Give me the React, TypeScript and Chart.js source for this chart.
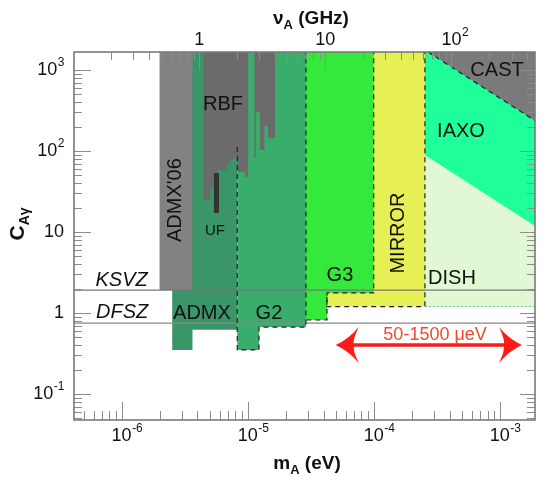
import React, { useEffect, useRef } from "react";
import { Chart, registerables } from "chart.js";

Chart.register(...registerables);

// ---------- axis ranges ----------
const massRange = [4.19e-7, 1.905e-3];
const couplingRange = [0.0478, 1668];
const evPerGHz = 4.136e-6;

// ---------- tick labels ----------
const massMajorTicks = [1e-6, 1e-5, 1e-4, 1e-3];
const massTickLabels = ["10^-6", "10^-5", "10^-4", "10^-3"];
const couplingMajorTicks = [0.1, 1, 10, 100, 1000];
const couplingTickLabels = ["10^-1", "1", "10", "10^2", "10^3"];
const freqMajorTicks = [1, 10, 100];
const freqTickLabels = ["1", "10", "10^2"];

// ---------- model lines ----------
const ksvz = 1.92;
const dfsz = 0.75;

// ---------- exclusion / sensitivity regions (mass in eV, C_Agamma) ----------
const regionTop = 3000;
const admx06Edges = [2.0e-6, 3.65e-6];
const admx06Floors = [1.92];
const admxEdges = [2.52e-6, 3.65e-6, 8.27e-6];
const admxFloors = [0.35, 0.62];
const g2Edges = [8.27e-6, 1.23e-5, 2.9e-5];
const g2Floors = [0.35, 0.67];
const g2DashStart = 112;
const g3Edges = [2.9e-5, 4.26e-5, 1.0e-4];
const g3Floors = [0.82, 1.77];
const mirrorEdges = [4.26e-5, 2.55e-4];
const mirrorFloors = [1.2];
const dishFloor = 1.2;
const dishEdgeM = [2.55e-4, 1.905e-3];
const dishEdgeC = [89, 11.9];
const castEdgeM = [2.7e-4, 1.905e-3];
const castEdgeC = [1668, 237];
const rbfLeftEdges = [4.44e-6, 5.02e-6, 5.26e-6, 5.81e-6, 6.81e-6, 7.24e-6, 7.69e-6, 8.27e-6, 9.52e-6, 1.01e-5];
const rbfLeftFloors = [24.8, 33, 41, 58, 71, 77, 84, 55, 48];
const rbfRightEdges = [1.13e-5, 1.16e-5, 1.25e-5, 1.36e-5, 1.45e-5, 1.65e-5];
const rbfRightFloors = [82, 300, 103, 204, 145];
const ufEdges = [5.4e-6, 5.92e-6];
const ufFloors = [17.2];
const ufTop = 53.5;
const searchRange = [5e-5, 1.5e-3];
const searchArrowC = 0.403;

const FONT = '"Liberation Sans", Arial, sans-serif';

type Pt = { x: number; y: number };

function stepRegion(edges: number[], floors: number[], top: number): Pt[] {
  const pts: Pt[] = [{ x: edges[0], y: top }];
  floors.forEach((f, i) => {
    pts.push({ x: edges[i], y: f });
    pts.push({ x: edges[i + 1], y: f });
  });
  pts.push({ x: edges[edges.length - 1], y: top });
  pts.push({ x: edges[0], y: top });
  return pts;
}

function fillDs(data: Pt[], color: string) {
  return {
    data,
    showLine: true,
    fill: "shape",
    backgroundColor: color,
    borderColor: "transparent",
    borderWidth: 0,
    pointRadius: 0,
    pointHoverRadius: 0,
    tension: 0,
  };
}

function lineDs(data: Pt[], color: string, width: number, dash: number[] = []) {
  return {
    data,
    showLine: true,
    fill: false,
    backgroundColor: "transparent",
    borderColor: color,
    borderWidth: width,
    borderDash: dash,
    pointRadius: 0,
    pointHoverRadius: 0,
    tension: 0,
  };
}

const annotations = [
  { text: "KSVZ", m: 1.0e-6, c: 2.55, italic: true, rot: false, size: 20 },
  { text: "DFSZ", m: 1.01e-6, c: 1.01, italic: true, rot: false, size: 20 },
  { text: "ADMX'06", m: 2.67e-6, c: 24.8, italic: false, rot: true, size: 20 },
  { text: "RBF", m: 6.37e-6, c: 370, italic: false, rot: false, size: 20 },
  { text: "UF", m: 5.5e-6, c: 10.3, italic: false, rot: false, size: 15 },
  { text: "ADMX", m: 4.34e-6, c: 1.0, italic: false, rot: false, size: 20 },
  { text: "G2", m: 1.476e-5, c: 1.0, italic: false, rot: false, size: 20 },
  { text: "G3", m: 5.4e-5, c: 2.94, italic: false, rot: false, size: 20 },
  { text: "MIRROR", m: 1.56e-4, c: 9.72, italic: false, rot: true, size: 20 },
  { text: "DISH", m: 4.18e-4, c: 2.7, italic: false, rot: false, size: 20 },
  { text: "IAXO", m: 4.93e-4, c: 172, italic: false, rot: false, size: 20 },
  { text: "CAST", m: 9.52e-4, c: 1000, italic: false, rot: false, size: 20 },
];
const arrowLabel = { text: "50-1500 μeV", m: 3.07e-4, c: 0.535 };

function tickList(min: number, max: number) {
  const out: { v: number; major: boolean }[] = [];
  for (let e = Math.floor(Math.log10(min)); e <= Math.ceil(Math.log10(max)); e++) {
    for (let k = 1; k < 10; k++) {
      const v = k * Math.pow(10, e);
      if (v >= min * 0.9999 && v <= max * 1.0001) out.push({ v, major: k === 1 });
    }
  }
  return out;
}

function drawRich(ctx: CanvasRenderingContext2D, label: string, x: number, y: number, mode: "center" | "right", size: number) {
  const [base, sup] = label.split("^");
  ctx.font = `${size}px ${FONT}`;
  const wb = ctx.measureText(base).width;
  ctx.font = `${Math.round(size * 0.66)}px ${FONT}`;
  const ws = sup ? ctx.measureText(sup).width : 0;
  let start = mode === "center" ? x - wb / 2 : x - wb - ws;
  ctx.textBaseline = "middle";
  ctx.textAlign = "left";
  ctx.font = `${size}px ${FONT}`;
  ctx.fillText(base, start, y);
  if (sup) {
    ctx.font = `${Math.round(size * 0.66)}px ${FONT}`;
    ctx.fillText(sup, start + wb + 0.5, y - size * 0.4);
  }
}

function drawSubTitle(ctx: CanvasRenderingContext2D, parts: [string, string, string], cx: number, cy: number, size: number) {
  const [a, sub, b] = parts;
  const big = `bold ${size}px ${FONT}`;
  const small = `bold ${Math.round(size * 0.68)}px ${FONT}`;
  ctx.font = big;
  const wa = ctx.measureText(a).width;
  const wbb = ctx.measureText(b).width;
  ctx.font = small;
  const ws = ctx.measureText(sub).width;
  const total = wa + ws + wbb;
  let x = cx - total / 2;
  ctx.textAlign = "left";
  ctx.textBaseline = "alphabetic";
  ctx.font = big;
  ctx.fillText(a, x, cy);
  x += wa;
  ctx.font = small;
  ctx.fillText(sub, x, cy + size * 0.25);
  x += ws;
  ctx.font = big;
  ctx.fillText(b, x, cy);
}

const decorPlugin = {
  id: "decor",
  afterDatasetsDraw(chart: any) {
    const ctx: CanvasRenderingContext2D = chart.ctx;
    const xs = chart.scales.x;
    const ys = chart.scales.y;
    const fs = chart.scales.x2;
    const a = chart.chartArea;
    ctx.save();

    // ticks
    ctx.strokeStyle = "#8c8c8c";
    ctx.lineWidth = 1;
    ctx.beginPath();
    tickList(massRange[0], massRange[1]).forEach(({ v, major }) => {
      const x = Math.round(xs.getPixelForValue(v)) + 0.5;
      ctx.moveTo(x, a.bottom);
      ctx.lineTo(x, a.bottom - (major ? 18 : 9));
    });
    tickList(massRange[0] / evPerGHz, massRange[1] / evPerGHz).forEach(({ v, major }) => {
      const x = Math.round(fs.getPixelForValue(v)) + 0.5;
      ctx.moveTo(x, a.top);
      ctx.lineTo(x, a.top + (major ? 18 : 8));
    });
    tickList(couplingRange[0], couplingRange[1]).forEach(({ v, major }) => {
      const y = Math.round(ys.getPixelForValue(v)) + 0.5;
      ctx.moveTo(a.left, y);
      ctx.lineTo(a.left + (major ? 17 : 8), y);
      ctx.moveTo(a.right, y);
      ctx.lineTo(a.right - (major ? 15 : 8), y);
    });
    ctx.stroke();

    // frame
    ctx.strokeStyle = "#7a7a7a";
    ctx.lineWidth = 1.6;
    ctx.strokeRect(a.left, a.top, a.right - a.left, a.bottom - a.top);

    // tick labels
    ctx.fillStyle = "#111";
    massMajorTicks.forEach((v, i) => drawRich(ctx, massTickLabels[i], xs.getPixelForValue(v), a.bottom + 16, "center", 18));
    couplingMajorTicks.forEach((v, i) => drawRich(ctx, couplingTickLabels[i], a.left - 10, ys.getPixelForValue(v), "right", 18));
    freqMajorTicks.forEach((v, i) => drawRich(ctx, freqTickLabels[i], fs.getPixelForValue(v), a.top - 12, "center", 18));

    // axis titles
    drawSubTitle(ctx, ["m", "A", " (eV)"], 307, 469, 19);
    drawSubTitle(ctx, ["ν", "A", " (GHz)"], 311, 24, 19);
    ctx.save();
    ctx.translate(24, 224);
    ctx.rotate(-Math.PI / 2);
    drawSubTitle(ctx, ["C", "Aγ", ""], 0, 0, 21);
    ctx.restore();

    // arrow
    const x0 = xs.getPixelForValue(searchRange[0]);
    const x1 = xs.getPixelForValue(searchRange[1]);
    const yA = ys.getPixelForValue(searchArrowC);
    ctx.strokeStyle = "#ff1a1a";
    ctx.fillStyle = "#ff1a1a";
    ctx.lineWidth = 3.5;
    ctx.beginPath();
    ctx.moveTo(x0 + 14, yA);
    ctx.lineTo(x1 - 14, yA);
    ctx.stroke();
    const head = (tx: number, dir: number) => {
      ctx.beginPath();
      ctx.moveTo(tx, yA);
      ctx.quadraticCurveTo(tx + dir * 13, yA - 6, tx + dir * 23, yA - 18);
      ctx.quadraticCurveTo(tx + dir * 17, yA - 6, tx + dir * 18, yA);
      ctx.quadraticCurveTo(tx + dir * 17, yA + 6, tx + dir * 23, yA + 18);
      ctx.quadraticCurveTo(tx + dir * 13, yA + 6, tx, yA);
      ctx.closePath();
      ctx.fill();
    };
    head(x0, 1);
    head(x1, -1);
    ctx.fillStyle = "#f04a30";
    ctx.font = `18px ${FONT}`;
    ctx.textAlign = "center";
    ctx.textBaseline = "middle";
    ctx.fillText(arrowLabel.text, xs.getPixelForValue(arrowLabel.m), ys.getPixelForValue(arrowLabel.c));

    // region labels
    ctx.fillStyle = "#111";
    annotations.forEach((t) => {
      const px = xs.getPixelForValue(t.m);
      const py = ys.getPixelForValue(t.c);
      ctx.font = `${t.italic ? "italic " : ""}${t.size}px ${FONT}`;
      ctx.textAlign = "center";
      ctx.textBaseline = "middle";
      if (t.rot) {
        ctx.save();
        ctx.translate(px, py);
        ctx.rotate(-Math.PI / 2);
        ctx.fillText(t.text, 0, 0);
        ctx.restore();
      } else {
        ctx.fillText(t.text, px, py);
      }
    });
    ctx.restore();
  },
};

function buildDatasets() {
  const xMax = massRange[1];
  const layers: any[] = [
    fillDs(stepRegion(mirrorEdges, mirrorFloors, regionTop), "#e6f055"),
    fillDs(stepRegion([dishEdgeM[0], xMax], [dishFloor], regionTop), "#1eff9a"),
    fillDs(
      [
        { x: dishEdgeM[0], y: dishFloor },
        { x: dishEdgeM[0], y: dishEdgeC[0] },
        { x: dishEdgeM[1], y: dishEdgeC[1] },
        { x: dishEdgeM[1], y: dishFloor },
        { x: dishEdgeM[0], y: dishFloor },
      ],
      "#e2f8d4"
    ),
    fillDs(
      [
        { x: castEdgeM[0], y: castEdgeC[0] },
        { x: castEdgeM[1], y: castEdgeC[1] },
        { x: castEdgeM[1], y: regionTop },
        { x: castEdgeM[0], y: regionTop },
        { x: castEdgeM[0], y: castEdgeC[0] },
      ],
      "#7a7a7a"
    ),
    fillDs(stepRegion(g3Edges, g3Floors, regionTop), "#34e83c"),
    fillDs(stepRegion(g2Edges, g2Floors, regionTop), "#3aad6c"),
    fillDs(stepRegion(admxEdges, admxFloors, regionTop), "#3a9568"),
    fillDs(stepRegion(admx06Edges, admx06Floors, regionTop), "#828282"),
    fillDs(stepRegion(rbfLeftEdges, rbfLeftFloors, regionTop), "#6b6b6b"),
    fillDs(stepRegion(rbfRightEdges, rbfRightFloors, regionTop), "#6b6b6b"),
    fillDs(stepRegion(ufEdges, ufFloors, ufTop), "#333333"),
    // model lines
    lineDs([{ x: massRange[0], y: ksvz }, { x: massRange[1], y: ksvz }], "#777777", 1.2),
    lineDs([{ x: massRange[0], y: dfsz }, { x: massRange[1], y: dfsz }], "#888888", 1.2),
    lineDs([{ x: dishEdgeM[0], y: dishFloor }, { x: xMax, y: dishFloor }], "#aaaaaa", 1, [2, 2]),
    // dashed outlines
    lineDs(
      [
        { x: g2Edges[0], y: g2DashStart },
        { x: g2Edges[0], y: g2Floors[0] },
        { x: g2Edges[1], y: g2Floors[0] },
        { x: g2Edges[1], y: g2Floors[1] },
        { x: g2Edges[2], y: g2Floors[1] },
        { x: g2Edges[2], y: regionTop },
      ],
      "#222222",
      1.2,
      [5, 4]
    ),
    lineDs(
      [
        { x: g3Edges[2], y: regionTop },
        { x: g3Edges[2], y: g3Floors[1] },
        { x: g3Edges[1], y: g3Floors[1] },
        { x: g3Edges[1], y: g3Floors[0] },
        { x: g3Edges[0], y: g3Floors[0] },
      ],
      "#222222",
      1.2,
      [5, 4]
    ),
    lineDs(
      [
        { x: mirrorEdges[1], y: regionTop },
        { x: mirrorEdges[1], y: mirrorFloors[0] },
        { x: mirrorEdges[0], y: mirrorFloors[0] },
        { x: mirrorEdges[0], y: g3Floors[1] },
      ],
      "#222222",
      1.2,
      [5, 4]
    ),
    lineDs(
      [
        { x: castEdgeM[0], y: castEdgeC[0] },
        { x: castEdgeM[1], y: castEdgeC[1] },
      ],
      "#222222",
      1.2,
      [5, 4]
    ),
  ];
  const n = layers.length;
  return layers.map((d, i) => ({ ...d, order: n - i }));
}

export default function App() {
  const ref = useRef<HTMLCanvasElement>(null);
  useEffect(() => {
    const chart = new Chart(ref.current as HTMLCanvasElement, {
      type: "scatter",
      data: { datasets: buildDatasets() as any },
      options: {
        animation: false,
        responsive: false,
        events: [],
        layout: { padding: { left: 74, top: 52, right: 11, bottom: 61 } },
        plugins: { legend: { display: false }, tooltip: { enabled: false }, title: { display: false } },
        scales: {
          x: { type: "logarithmic", min: massRange[0], max: massRange[1], display: false },
          x2: {
            type: "logarithmic",
            position: "top",
            min: massRange[0] / evPerGHz,
            max: massRange[1] / evPerGHz,
            display: false,
          },
          y: { type: "logarithmic", min: couplingRange[0], max: couplingRange[1], display: false },
        },
      } as any,
      plugins: [decorPlugin],
    });
    return () => chart.destroy();
  }, []);
  return (
    <div style={{ position: "fixed", left: 0, top: 0, width: 546, height: 481, background: "#fff" }}>
      <canvas ref={ref} width={546} height={481} style={{ display: "block" }} />
    </div>
  );
}
